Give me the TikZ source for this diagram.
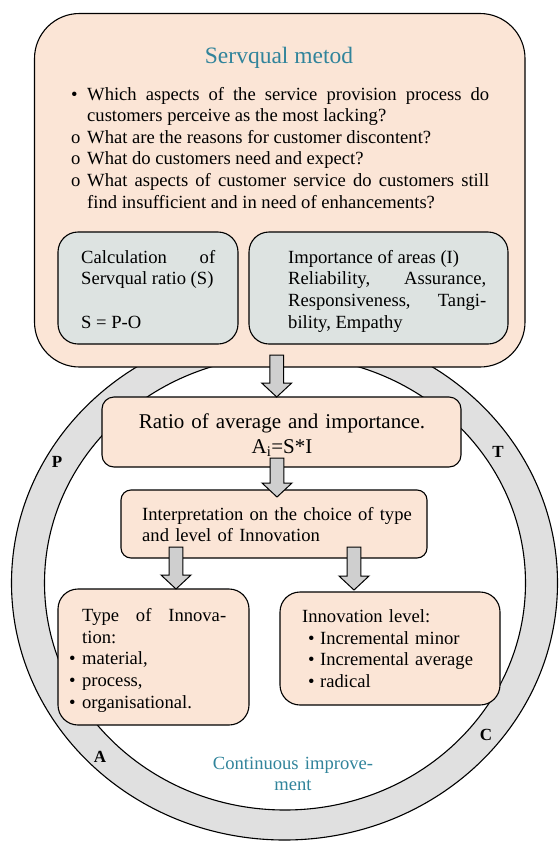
\documentclass[tikz,border=0pt]{standalone}
\usepackage{fontspec}
\setmainfont{Liberation Serif}
\usetikzlibrary{calc}

\definecolor{peach}{HTML}{FBE5D6}
\definecolor{sage}{HTML}{DDE3E1}
\definecolor{ringgray}{HTML}{E0E0E0}
\definecolor{arrowgray}{HTML}{CFCFCF}
\definecolor{headteal}{HTML}{31849B}

% hanging list item: marker in a fixed-width box, following lines indented
\newcommand\hangitem[1]{\hangindent=16pt\hangafter=1\noindent\makebox[16pt][l]{#1}}
% bullet hanging into the left margin
\newcommand\leftbullet{\noindent\llap{\textbullet\hspace{6.5pt}}}

% thick grey block arrow pointing down from #1 to #2
\newcommand\blockarrow[2]{%
  \draw[blockarrow] ($(#1)+(-6.8,0)$) -- ($(#2)+(-6.8,-14)$) -- ($(#2)+(-15,-14)$)
    -- (#2) -- ($(#2)+(15,-14)$) -- ($(#2)+(6.8,-14)$) -- ($(#1)+(6.8,0)$) -- cycle;}

\tikzset{
  box/.style={draw=black, line width=1.1pt, inner sep=0pt},
  pinkbox/.style={box, fill=peach},
  sagebox/.style={box, fill=sage},
  txt/.style={inner sep=0pt, anchor=base west, font=\fontsize{18.6}{21.6}\selectfont},
  blockarrow/.style={draw=black, line width=1pt, fill=arrowgray, line join=miter},
  ringlbl/.style={font=\fontsize{17}{17}\selectfont\bfseries, inner sep=0pt},
  ringline/.style={draw=black, line width=1.1pt},
}

\begin{document}
\begin{tikzpicture}[x=1pt, y=-1pt]
\useasboundingbox (0,0) rectangle (558,841);

% PDCA ring
\fill[ringgray, even odd rule]
  (284.5,583) ellipse [x radius=273pt, y radius=257pt]
  (285,583) ellipse [x radius=240.5pt, y radius=227pt];
\draw[ringline] (284.5,583) ellipse [x radius=273pt, y radius=257pt];
\draw[ringline] (285,583) ellipse [x radius=240.5pt, y radius=227pt];

% Servqual block
\node[pinkbox, rounded corners=45pt, minimum width=490.5pt, minimum height=353.5pt] (top) at (279.75,190.25) {};
\node[font=\fontsize{23.5}{28}\selectfont, text=headteal, anchor=base, inner sep=0pt] (title) at (279,63.3) {Servqual metod};
\node[txt, text width=418pt, align=justify] (questions) at (71,100) {%
\hangitem{\textbullet}Which aspects of the service provision process do\linebreak customers perceive as the most lacking?\par
\hangitem{o}What are the reasons for customer discontent?\par
\hangitem{o}What do customers need and expect?\par
\hangitem{o}What aspects of customer service do customers still\linebreak find insufficient and in need of enhancements?\par};

\node[sagebox, rounded corners=20pt, minimum width=180pt, minimum height=112pt] (calcbox) at (148,288) {};
\node[txt, text width=134pt, align=justify] (calctxt) at (81,263.3) {%
Calculation of\linebreak Servqual ratio (S)\par\mbox{}\par\noindent S = P-O};

\node[sagebox, rounded corners=20pt, minimum width=259pt, minimum height=112pt] (impbox) at (378.5,288) {};
\node[txt, text width=198pt, align=justify] (imptxt) at (288,263.3) {%
Importance of areas (I)\par\noindent Reliability, Assurance,\linebreak Responsiveness, Tangi-\linebreak bility, Empathy};

% ratio and interpretation
\node[pinkbox, rounded corners=12pt, minimum width=359pt, minimum height=70pt] (ratio) at (281.5,432) {};
\node[inner sep=0pt, anchor=base, text width=340pt, align=center, font=\fontsize{21}{24.7}\selectfont] (ratiotxt) at (282,428.3)
  {Ratio of average and importance.\\A\textsubscript{i}=S*I};

\node[pinkbox, rounded corners=10pt, minimum width=306pt, minimum height=68pt] (interp) at (274,524) {};
\node[txt, text width=280pt, align=left] (interptxt) at (142,520) {Interpretation on the choice of type\\and level of Innovation};

% type and level of innovation
\node[pinkbox, rounded corners=20pt, minimum width=191pt, minimum height=136pt] (typebox) at (153.5,657) {};
\node[txt, text width=144pt, align=justify] (typetxt) at (82,621.7) {%
Type of Innova-\linebreak tion:\par
\leftbullet material,\par
\leftbullet process,\par
\leftbullet organisational.};

\node[pinkbox, rounded corners=20pt, minimum width=220pt, minimum height=113pt] (levelbox) at (390,648.5) {};
\node[txt, text width=190pt, align=left] (leveltxt) at (302,622.7) {%
Innovation level:\\
\hspace*{6pt}\makebox[12pt][l]{\textbullet}Incremental minor\\
\hspace*{6pt}\makebox[12pt][l]{\textbullet}Incremental average\\
\hspace*{6pt}\makebox[12pt][l]{\textbullet}radical};

\node[inner sep=0pt, anchor=base, text width=200pt, align=center, text=headteal, font=\fontsize{18.6}{21.6}\selectfont] (cont) at (293,769)
  {Continuous improve-\\ment};

% arrows between the stages
\coordinate (a1s) at (276.7,355);
\coordinate (a1e) at (276.7,397);
\coordinate (a2s) at (277,458);
\coordinate (a2e) at (277,497);
\coordinate (a3s) at (176,547);
\coordinate (a3e) at (176,589);
\coordinate (a4s) at (354,547);
\coordinate (a4e) at (354,590);
\blockarrow{a1s}{a1e}
\blockarrow{a2s}{a2e}
\blockarrow{a3s}{a3e}
\blockarrow{a4s}{a4e}

% ring letters
\node[ringlbl] (lp) at (57,462) {P};
\node[ringlbl] (lt) at (498,452) {T};
\node[ringlbl] (la) at (100,757) {A};
\node[ringlbl] (lc) at (486,735) {C};
\end{tikzpicture}
\end{document}
